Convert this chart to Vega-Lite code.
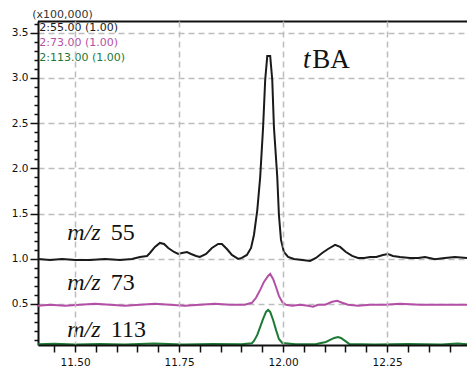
{
  "$schema": "https://vega.github.io/schema/vega-lite/v6.json",
  "autosize": "none",
  "width": 429,
  "height": 324,
  "padding": {"left": 38, "top": 21, "right": 0, "bottom": 31},
  "background": "white",
  "config": {
    "view": {"stroke": null},
    "axis": {"labelFont": "DejaVu Sans", "labelFontSize": 10.5, "labelFontWeight": "normal", "labelColor": "#111"}
  },
  "resolve": {"axis": {"x": "independent", "y": "independent"}},
  "layer": [
    {
      "data": {"values": [
        {"s": "55", "t": 11.411, "v": 0.998}, {"s": "55", "t": 11.440, "v": 0.987}, {"s": "55", "t": 11.469, "v": 0.998},
        {"s": "55", "t": 11.500, "v": 0.987}, {"s": "55", "t": 11.536, "v": 0.987}, {"s": "55", "t": 11.572, "v": 0.998},
        {"s": "55", "t": 11.608, "v": 0.987}, {"s": "55", "t": 11.637, "v": 0.998}, {"s": "55", "t": 11.656, "v": 1.020},
        {"s": "55", "t": 11.673, "v": 1.031}, {"s": "55", "t": 11.680, "v": 1.064}, {"s": "55", "t": 11.692, "v": 1.131},
        {"s": "55", "t": 11.704, "v": 1.175}, {"s": "55", "t": 11.714, "v": 1.164}, {"s": "55", "t": 11.724, "v": 1.119},
        {"s": "55", "t": 11.738, "v": 1.075}, {"s": "55", "t": 11.748, "v": 1.053}, {"s": "55", "t": 11.757, "v": 1.064},
        {"s": "55", "t": 11.769, "v": 1.075}, {"s": "55", "t": 11.779, "v": 1.053}, {"s": "55", "t": 11.791, "v": 1.031},
        {"s": "55", "t": 11.800, "v": 1.020}, {"s": "55", "t": 11.815, "v": 1.053}, {"s": "55", "t": 11.829, "v": 1.119},
        {"s": "55", "t": 11.844, "v": 1.164}, {"s": "55", "t": 11.853, "v": 1.164}, {"s": "55", "t": 11.865, "v": 1.108},
        {"s": "55", "t": 11.877, "v": 1.042}, {"s": "55", "t": 11.892, "v": 0.998}, {"s": "55", "t": 11.901, "v": 1.009},
        {"s": "55", "t": 11.913, "v": 1.042}, {"s": "55", "t": 11.923, "v": 1.119}, {"s": "55", "t": 11.930, "v": 1.263},
        {"s": "55", "t": 11.938, "v": 1.539}, {"s": "55", "t": 11.945, "v": 1.904}, {"s": "55", "t": 11.952, "v": 2.458},
        {"s": "55", "t": 11.957, "v": 2.978}, {"s": "55", "t": 11.962, "v": 3.243}, {"s": "55", "t": 11.969, "v": 3.243},
        {"s": "55", "t": 11.974, "v": 2.978}, {"s": "55", "t": 11.978, "v": 2.458}, {"s": "55", "t": 11.986, "v": 1.904},
        {"s": "55", "t": 11.990, "v": 1.484}, {"s": "55", "t": 11.995, "v": 1.208}, {"s": "55", "t": 12.002, "v": 1.075},
        {"s": "55", "t": 12.012, "v": 1.020}, {"s": "55", "t": 12.026, "v": 0.998}, {"s": "55", "t": 12.046, "v": 0.987},
        {"s": "55", "t": 12.065, "v": 0.976}, {"s": "55", "t": 12.079, "v": 1.009}, {"s": "55", "t": 12.094, "v": 1.064},
        {"s": "55", "t": 12.108, "v": 1.108}, {"s": "55", "t": 12.125, "v": 1.153}, {"s": "55", "t": 12.137, "v": 1.131},
        {"s": "55", "t": 12.151, "v": 1.075}, {"s": "55", "t": 12.166, "v": 1.031}, {"s": "55", "t": 12.180, "v": 1.009},
        {"s": "55", "t": 12.195, "v": 1.009}, {"s": "55", "t": 12.209, "v": 1.020}, {"s": "55", "t": 12.224, "v": 1.020},
        {"s": "55", "t": 12.240, "v": 1.042}, {"s": "55", "t": 12.252, "v": 1.053}, {"s": "55", "t": 12.264, "v": 1.031},
        {"s": "55", "t": 12.281, "v": 1.020}, {"s": "55", "t": 12.305, "v": 1.009}, {"s": "55", "t": 12.325, "v": 1.009},
        {"s": "55", "t": 12.341, "v": 1.020}, {"s": "55", "t": 12.365, "v": 0.995}, {"s": "55", "t": 12.389, "v": 1.009},
        {"s": "55", "t": 12.413, "v": 1.020}, {"s": "55", "t": 12.442, "v": 1.009},

        {"s": "73", "t": 11.411, "v": 0.480}, {"s": "73", "t": 11.440, "v": 0.491}, {"s": "73", "t": 11.476, "v": 0.480},
        {"s": "73", "t": 11.512, "v": 0.491}, {"s": "73", "t": 11.548, "v": 0.502}, {"s": "73", "t": 11.584, "v": 0.491},
        {"s": "73", "t": 11.620, "v": 0.480}, {"s": "73", "t": 11.656, "v": 0.491}, {"s": "73", "t": 11.692, "v": 0.502},
        {"s": "73", "t": 11.728, "v": 0.491}, {"s": "73", "t": 11.764, "v": 0.480}, {"s": "73", "t": 11.800, "v": 0.491},
        {"s": "73", "t": 11.836, "v": 0.502}, {"s": "73", "t": 11.872, "v": 0.491}, {"s": "73", "t": 11.908, "v": 0.491},
        {"s": "73", "t": 11.925, "v": 0.513}, {"s": "73", "t": 11.935, "v": 0.568}, {"s": "73", "t": 11.945, "v": 0.656},
        {"s": "73", "t": 11.954, "v": 0.744}, {"s": "73", "t": 11.964, "v": 0.810}, {"s": "73", "t": 11.969, "v": 0.832},
        {"s": "73", "t": 11.976, "v": 0.777}, {"s": "73", "t": 11.983, "v": 0.688}, {"s": "73", "t": 11.990, "v": 0.589},
        {"s": "73", "t": 11.998, "v": 0.522}, {"s": "73", "t": 12.007, "v": 0.491}, {"s": "73", "t": 12.022, "v": 0.480},
        {"s": "73", "t": 12.041, "v": 0.491}, {"s": "73", "t": 12.060, "v": 0.480}, {"s": "73", "t": 12.072, "v": 0.469},
        {"s": "73", "t": 12.084, "v": 0.491}, {"s": "73", "t": 12.101, "v": 0.491}, {"s": "73", "t": 12.118, "v": 0.524},
        {"s": "73", "t": 12.130, "v": 0.535}, {"s": "73", "t": 12.142, "v": 0.513}, {"s": "73", "t": 12.156, "v": 0.491},
        {"s": "73", "t": 12.180, "v": 0.480}, {"s": "73", "t": 12.209, "v": 0.491}, {"s": "73", "t": 12.245, "v": 0.491},
        {"s": "73", "t": 12.281, "v": 0.502}, {"s": "73", "t": 12.329, "v": 0.491}, {"s": "73", "t": 12.377, "v": 0.491},
        {"s": "73", "t": 12.442, "v": 0.491},

        {"s": "113", "t": 11.411, "v": 0.055}, {"s": "113", "t": 11.450, "v": 0.060}, {"s": "113", "t": 11.500, "v": 0.052},
        {"s": "113", "t": 11.560, "v": 0.058}, {"s": "113", "t": 11.620, "v": 0.052}, {"s": "113", "t": 11.690, "v": 0.062},
        {"s": "113", "t": 11.760, "v": 0.052}, {"s": "113", "t": 11.830, "v": 0.058}, {"s": "113", "t": 11.900, "v": 0.055},
        {"s": "113", "t": 11.925, "v": 0.065}, {"s": "113", "t": 11.930, "v": 0.091}, {"s": "113", "t": 11.938, "v": 0.158},
        {"s": "113", "t": 11.945, "v": 0.246}, {"s": "113", "t": 11.952, "v": 0.334}, {"s": "113", "t": 11.959, "v": 0.412},
        {"s": "113", "t": 11.964, "v": 0.434}, {"s": "113", "t": 11.969, "v": 0.412}, {"s": "113", "t": 11.976, "v": 0.323},
        {"s": "113", "t": 11.983, "v": 0.213}, {"s": "113", "t": 11.990, "v": 0.113}, {"s": "113", "t": 11.998, "v": 0.069},
        {"s": "113", "t": 12.030, "v": 0.055}, {"s": "113", "t": 12.080, "v": 0.058}, {"s": "113", "t": 12.103, "v": 0.080},
        {"s": "113", "t": 12.113, "v": 0.102}, {"s": "113", "t": 12.123, "v": 0.124}, {"s": "113", "t": 12.132, "v": 0.135},
        {"s": "113", "t": 12.139, "v": 0.124}, {"s": "113", "t": 12.149, "v": 0.091}, {"s": "113", "t": 12.159, "v": 0.058},
        {"s": "113", "t": 12.220, "v": 0.052}, {"s": "113", "t": 12.300, "v": 0.058}, {"s": "113", "t": 12.380, "v": 0.052},
        {"s": "113", "t": 12.420, "v": 0.062}, {"s": "113", "t": 12.442, "v": 0.055}
      ]},
      "mark": {"type": "line", "strokeWidth": 2, "interpolate": "linear"},
      "encoding": {
        "x": {
          "field": "t", "type": "quantitative",
          "scale": {"domain": [11.411, 12.442], "nice": false, "zero": false},
          "axis": {
            "title": null, "zindex": 1,
            "values": [11.45, 11.5, 11.55, 11.6, 11.65, 11.7, 11.75, 11.8, 11.85, 11.9, 11.95, 12.0, 12.05, 12.1, 12.15, 12.2, 12.25, 12.3, 12.35, 12.4],
            "labelExpr": "abs(datum.value*4 - round(datum.value*4)) < 0.001 ? format(datum.value, '.2f') : ''",
            "labelFlush": false, "labelOverlap": false,
            "domainColor": "#111", "domainWidth": 2,
            "tickColor": "#111", "tickWidth": 1.5, "tickSize": 7, "labelPadding": 5,
            "grid": true, "gridColor": "#bdbdbd", "gridDash": [6, 4], "gridWidth": 1.5,
            "gridOpacity": {"condition": {"test": "abs(datum.value*4 - round(datum.value*4)) < 0.001", "value": 1}, "value": 0}
          }
        },
        "y": {
          "field": "v", "type": "quantitative",
          "scale": {"domain": [0.046, 3.63], "nice": false, "zero": false},
          "axis": {
            "title": null,
            "values": [0.1, 0.2, 0.3, 0.4, 0.5, 0.6, 0.7, 0.8, 0.9, 1.0, 1.1, 1.2, 1.3, 1.4, 1.5, 1.6, 1.7, 1.8, 1.9, 2.0, 2.1, 2.2, 2.3, 2.4, 2.5, 2.6, 2.7, 2.8, 2.9, 3.0, 3.1, 3.2, 3.3, 3.4, 3.5, 3.6],
            "labelExpr": "abs(datum.value*2 - round(datum.value*2)) < 0.001 ? format(datum.value, '.1f') : ''",
            "labelOverlap": false, "labelFlush": false,
            "domainColor": "#111", "domainWidth": 2,
            "tickColor": "#111", "tickWidth": 1.5,
            "tickSize": {"condition": {"test": "abs(datum.value*2 - round(datum.value*2)) < 0.001", "value": 8}, "value": 4},
            "labelPadding": 2,
            "grid": true, "gridColor": "#bdbdbd", "gridDash": [6, 4], "gridWidth": 1.5,
            "gridOpacity": {"condition": {"test": "abs(datum.value*2 - round(datum.value*2)) < 0.001", "value": 1}, "value": 0}
          }
        },
        "color": {
          "field": "s", "type": "nominal",
          "scale": {"domain": ["55", "73", "113"], "range": ["#1a1a1a", "#b44fa6", "#1d7a35"]},
          "legend": null
        },
        "detail": {"field": "s"}
      }
    },
    {
      "data": {"values": [{}]},
      "mark": {"type": "rule", "color": "#111", "strokeWidth": 2},
      "encoding": {"y": {"datum": 3.625, "type": "quantitative", "axis": null}}
    },
    {
      "data": {"values": [{}]},
      "layer": [
        {
          "mark": {"type": "text", "text": "(x100,000)", "font": "DejaVu Sans", "fontSize": 11, "align": "left", "baseline": "middle", "color": "#333"},
          "encoding": {"x": {"datum": 11.397, "type": "quantitative", "axis": null}, "y": {"datum": 3.697, "type": "quantitative", "axis": null}}
        },
        {
          "mark": {"type": "text", "text": "2:55.00  (1.00)", "font": "DejaVu Sans", "fontSize": 11, "align": "left", "baseline": "middle", "color": "#1a1a1a"},
          "encoding": {"x": {"datum": 11.414, "type": "quantitative", "axis": null}, "y": {"datum": 3.554, "type": "quantitative", "axis": null}}
        },
        {
          "mark": {"type": "text", "text": "2:73.00  (1.00)", "font": "DejaVu Sans", "fontSize": 11, "align": "left", "baseline": "middle", "color": "#b44fa6"},
          "encoding": {"x": {"datum": 11.414, "type": "quantitative", "axis": null}, "y": {"datum": 3.388, "type": "quantitative", "axis": null}}
        },
        {
          "mark": {"type": "text", "text": "2:113.00  (1.00)", "font": "DejaVu Sans", "fontSize": 11, "align": "left", "baseline": "middle", "color": "#1d7a35"},
          "encoding": {"x": {"datum": 11.414, "type": "quantitative", "axis": null}, "y": {"datum": 3.222, "type": "quantitative", "axis": null}}
        },
        {
          "mark": {"type": "text", "text": "t", "font": "Liberation Serif", "fontStyle": "italic", "fontSize": 27, "align": "left", "baseline": "alphabetic", "color": "#111"},
          "encoding": {"x": {"datum": 12.048, "type": "quantitative", "axis": null}, "y": {"datum": 3.11, "type": "quantitative", "axis": null}}
        },
        {
          "mark": {"type": "text", "text": "BA", "font": "Liberation Serif", "fontSize": 27, "align": "left", "baseline": "alphabetic", "color": "#111"},
          "encoding": {"x": {"datum": 12.070, "type": "quantitative", "axis": null}, "y": {"datum": 3.11, "type": "quantitative", "axis": null}}
        },
        {
          "mark": {"type": "text", "text": "m/z", "font": "Liberation Serif", "fontStyle": "italic", "fontSize": 24, "align": "left", "baseline": "alphabetic", "color": "#111"},
          "encoding": {"x": {"datum": 11.481, "type": "quantitative", "axis": null}, "y": {"datum": 1.208, "type": "quantitative", "axis": null}}
        },
        {
          "mark": {"type": "text", "text": "55", "font": "Liberation Serif", "fontSize": 24, "align": "left", "baseline": "alphabetic", "color": "#111"},
          "encoding": {"x": {"datum": 11.586, "type": "quantitative", "axis": null}, "y": {"datum": 1.208, "type": "quantitative", "axis": null}}
        },
        {
          "mark": {"type": "text", "text": "m/z", "font": "Liberation Serif", "fontStyle": "italic", "fontSize": 24, "align": "left", "baseline": "alphabetic", "color": "#111"},
          "encoding": {"x": {"datum": 11.481, "type": "quantitative", "axis": null}, "y": {"datum": 0.657, "type": "quantitative", "axis": null}}
        },
        {
          "mark": {"type": "text", "text": "73", "font": "Liberation Serif", "fontSize": 24, "align": "left", "baseline": "alphabetic", "color": "#111"},
          "encoding": {"x": {"datum": 11.586, "type": "quantitative", "axis": null}, "y": {"datum": 0.657, "type": "quantitative", "axis": null}}
        },
        {
          "mark": {"type": "text", "text": "m/z", "font": "Liberation Serif", "fontStyle": "italic", "fontSize": 24, "align": "left", "baseline": "alphabetic", "color": "#111"},
          "encoding": {"x": {"datum": 11.481, "type": "quantitative", "axis": null}, "y": {"datum": 0.135, "type": "quantitative", "axis": null}}
        },
        {
          "mark": {"type": "text", "text": "113", "font": "Liberation Serif", "fontSize": 24, "align": "left", "baseline": "alphabetic", "color": "#111"},
          "encoding": {"x": {"datum": 11.586, "type": "quantitative", "axis": null}, "y": {"datum": 0.135, "type": "quantitative", "axis": null}}
        }
      ]
    }
  ]
}
